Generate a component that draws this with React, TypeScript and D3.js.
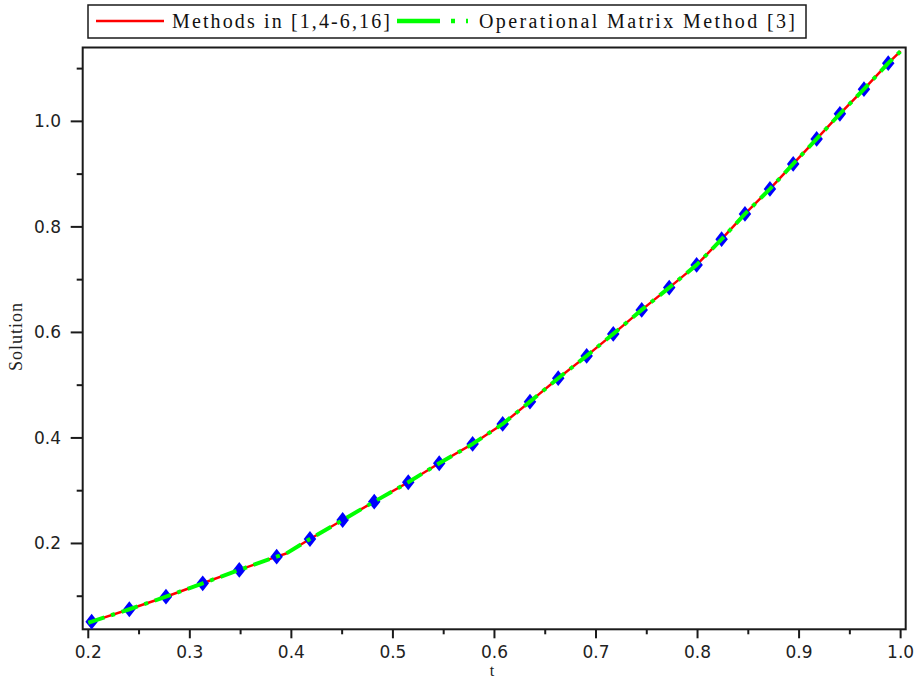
import React from 'react';
import * as d3 from 'd3';

// Curve (both methods coincide)
const solutionT = [0.2, 0.2033, 0.2404, 0.2765, 0.3127, 0.3487, 0.3855, 0.395, 0.4183, 0.4505, 0.4816, 0.5151, 0.5456, 0.5785, 0.6081, 0.635, 0.6628, 0.6908, 0.717, 0.745, 0.7721, 0.7991, 0.8237, 0.8467, 0.8713, 0.8942, 0.9173, 0.9402, 0.9639, 0.9878, 1.0];
const methodsV = [0.0497, 0.0518, 0.0753, 0.0991, 0.1245, 0.1498, 0.175, 0.181, 0.2085, 0.2445, 0.2792, 0.316, 0.352, 0.3886, 0.4265, 0.4688, 0.5132, 0.5555, 0.5972, 0.6427, 0.6849, 0.728, 0.7767, 0.8246, 0.872, 0.9194, 0.9668, 1.0142, 1.061, 1.1103, 1.133];
const operationalV = [0.0497, 0.0518, 0.0753, 0.0991, 0.1245, 0.1498, 0.175, 0.181, 0.2085, 0.2445, 0.2792, 0.316, 0.352, 0.3886, 0.4265, 0.4688, 0.5132, 0.5555, 0.5972, 0.6427, 0.6849, 0.728, 0.7767, 0.8246, 0.872, 0.9194, 0.9668, 1.0142, 1.061, 1.1103, 1.133];

// Blue point symbols
const markerT = [0.2033, 0.2404, 0.2765, 0.3127, 0.3487, 0.3855, 0.4183, 0.4505, 0.4816, 0.5151, 0.5456, 0.5785, 0.6081, 0.635, 0.6628, 0.6908, 0.717, 0.745, 0.7721, 0.7991, 0.8237, 0.8467, 0.8713, 0.8942, 0.9173, 0.9402, 0.9639, 0.9878];
const markerV = [0.0518, 0.0753, 0.0991, 0.1245, 0.1498, 0.175, 0.2085, 0.2445, 0.2792, 0.316, 0.352, 0.3886, 0.4265, 0.4688, 0.5132, 0.5555, 0.5972, 0.6427, 0.6849, 0.728, 0.7767, 0.8246, 0.872, 0.9194, 0.9668, 1.0142, 1.061, 1.1103];

const xTicks = [0.2, 0.3, 0.4, 0.5, 0.6, 0.7, 0.8, 0.9, 1.0];
const xTickLabels = ['0.2', '0.3', '0.4', '0.5', '0.6', '0.7', '0.8', '0.9', '1.0'];
const xMinorTicks = [0.25, 0.35, 0.45, 0.55, 0.65, 0.75, 0.85, 0.95];
const yTicks = [0.2, 0.4, 0.6, 0.8, 1.0];
const yTickLabels = ['0.2', '0.4', '0.6', '0.8', '1.0'];
const yMinorTicks = [0.1, 0.3, 0.5, 0.7, 0.9, 1.1];
const legendLabels = ['Methods in [1,4-6,16]', 'Operational Matrix Method [3]'];
const xLabel = 't';
const yLabel = 'Solution';

const W = 921;
const H = 682;
const L = 82.7, R = 905.7, T = 47.5, B = 629.3;

export default function App() {
  const x = d3.scaleLinear().domain([0.1945, 1.005]).range([L, R]);
  const y = d3.scaleLinear().domain([0.0373, 1.14]).range([B, T]);

  const redPts: [number, number][] = solutionT.map((t, i) => [t, methodsV[i]]);
  const greenPts: [number, number][] = solutionT.map((t, i) => [t, operationalV[i]]);
  const line = d3.line<[number, number]>().x(d => x(d[0])).y(d => y(d[1])).curve(d3.curveLinear);
  const sym = d3.symbol().type(d3.symbolDiamond).size(80)();

  const tickFont = { fontFamily: '"DejaVu Sans", sans-serif', fontSize: 17, fill: '#222' };
  const serif = '"Liberation Serif", "Times New Roman", serif';

  return (
    <svg width={W} height={H} style={{ position: 'absolute', left: 0, top: 0, background: '#fff' }}>
      <rect x={0} y={0} width={W} height={H} fill="#fff" />
      {/* frame */}
      <rect x={L} y={T} width={R - L} height={B - T} fill="none" stroke="#1a1a1a" strokeWidth={2} />
      {/* x ticks */}
      {xTicks.map((t, i) => (
        <g key={'xt' + i}>
          <line x1={x(t)} x2={x(t)} y1={B} y2={B + 9} stroke="#1a1a1a" strokeWidth={2} />
          <text x={x(t)} y={658} textAnchor="middle" {...tickFont}>{xTickLabels[i]}</text>
        </g>
      ))}
      {xMinorTicks.map((t, i) => (
        <line key={'xm' + i} x1={x(t)} x2={x(t)} y1={B} y2={B + 5} stroke="#1a1a1a" strokeWidth={2} />
      ))}
      {/* y ticks */}
      {yTicks.map((v, i) => (
        <g key={'yt' + i}>
          <line x1={L - 12} x2={L} y1={y(v)} y2={y(v)} stroke="#1a1a1a" strokeWidth={2} />
          <text x={61} y={y(v) + 6} textAnchor="end" {...tickFont}>{yTickLabels[i]}</text>
        </g>
      ))}
      {yMinorTicks.map((v, i) => (
        <line key={'ym' + i} x1={L - 6} x2={L} y1={y(v)} y2={y(v)} stroke="#1a1a1a" strokeWidth={2} />
      ))}
      {/* axis labels */}
      <text x={492} y={676} textAnchor="middle" fontFamily={serif} fontSize={16} fill="#222">{xLabel}</text>
      <text transform="translate(22,337) rotate(-90)" textAnchor="middle" fontFamily={serif} fontSize={18} fill="#222"
        textLength={68} lengthAdjust="spacing">{yLabel}</text>

      {/* curves */}
      <path d={line(redPts) || ''} fill="none" stroke="#ff0000" strokeWidth={2.5} strokeLinejoin="round" />
      {markerT.map((t, i) => (
        <path key={'m' + i} d={sym || ''} transform={`translate(${x(t)},${y(markerV[i])}) scale(1.3,0.95)`} fill="#0000ff" />
      ))}
      <path d={line(greenPts) || ''} fill="none" stroke="#00ff00" strokeWidth={4} strokeDasharray="17 7 4 7" strokeLinejoin="round" />

      {/* legend */}
      <rect x={88} y={5} width={718} height={33} fill="#fff" stroke="#1a1a1a" strokeWidth={1.5} />
      <line x1={96} x2={164} y1={21} y2={21} stroke="#ff0000" strokeWidth={2.5} />
      <text x={172} y={28} fontFamily={serif} fontSize={20} fill="#111" textLength={218} lengthAdjust="spacing">{legendLabels[0]}</text>
      <line x1={397} x2={440} y1={21} y2={21} stroke="#00ff00" strokeWidth={4.5} />
      <line x1={451} x2={455} y1={21} y2={21} stroke="#00ff00" strokeWidth={4.5} />
      <line x1={466} x2={468} y1={21} y2={21} stroke="#00ff00" strokeWidth={4.5} />
      <text x={479} y={28} fontFamily={serif} fontSize={20} fill="#111" textLength={316} lengthAdjust="spacing">{legendLabels[1]}</text>
    </svg>
  );
}
